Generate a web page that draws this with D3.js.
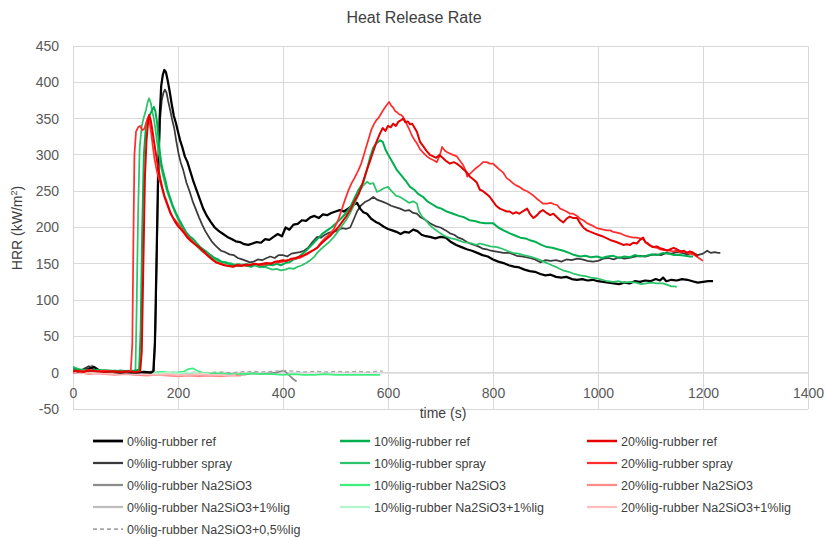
<!DOCTYPE html>
<html><head><meta charset="utf-8">
<script src="https://cdn.jsdelivr.net/npm/d3@7"></script>
<style>body{margin:0;background:#fff;}svg{display:block;font-family:"Liberation Sans",Arial,sans-serif;}</style>
</head><body>
<svg id="chart" width="826" height="538"></svg>
<script>
// ---------------- DATA ----------------
const xTicks = [0,200,400,600,800,1000,1200,1400];
const yTicks = [-50,0,50,100,150,200,250,300,350,400,450];
const seriesNames = [
 "0%lig-rubber ref","10%lig-rubber ref","20%lig-rubber ref",
 "0%lig-rubber spray","10%lig-rubber spray","20%lig-rubber spray",
 "0%lig-rubber Na2SiO3","10%lig-rubber Na2SiO3","20%lig-rubber Na2SiO3",
 "0%lig-rubber Na2SiO3+1%lig","10%lig-rubber Na2SiO3+1%lig","20%lig-rubber Na2SiO3+1%lig",
 "0%lig-rubber Na2SiO3+0,5%lig"];

const s0ref = [[0,2],[10,4],[20,3],[30,5],[40,8],[50,3],[60,2],[75,1],[90,0],[105,1],[120,0],[135,1],[148,0],[153,2],[156,40],[159,150],[162,270],[165,350],[168,395],[171,410],[174,417],[177,414],[180,404],[184,388],[188,370],[192,354],[196,344],[200,332],[204,320],[208,311],[213,298],[218,290],[224,276],[230,262],[236,250],[242,238],[248,226],[255,216],[262,208],[270,200],[278,195],[286,191],[294,187],[302,184],[310,181],[318,180],[326,177],[334,176],[342,178],[350,180],[358,179],[366,184],[374,183],[382,187],[390,191],[398,188],[405,200],[412,197],[420,204],[428,205],[436,210],[444,209],[452,214],[460,216],[468,213],[476,218],[484,217],[492,220],[500,222],[508,224],[516,222],[524,226],[532,230],[541,234],[547,226],[553,221],[560,219],[568,212],[576,208],[584,205],[592,201],[600,198],[608,196],[616,194],[624,191],[632,194],[640,193],[648,197],[656,195],[664,190],[672,188],[680,187],[690,185],[700,187],[710,186],[720,180],[730,176],[740,173],[750,170],[760,168],[770,165],[780,162],[790,160],[800,156],[810,153],[820,151],[830,148],[840,146],[850,145],[860,142],[870,140],[880,139],[890,136],[900,134],[910,135],[920,132],[930,131],[940,132],[950,129],[960,128],[970,129],[980,127],[990,128],[1000,126],[1010,125],[1020,124],[1030,123],[1040,122],[1050,124],[1060,123],[1070,126],[1080,125],[1090,127],[1100,126],[1110,129],[1118,127],[1124,131],[1130,126],[1140,128],[1150,127],[1160,129],[1170,128],[1180,126],[1190,124],[1200,125],[1210,126],[1219,126]];

const s0spray = [[0,3],[10,1],[20,5],[30,9],[40,4],[50,2],[65,1],[80,3],[95,1],[110,0],[125,1],[140,0],[150,1],[154,3],[157,60],[160,180],[163,290],[166,350],[169,375],[172,385],[175,390],[178,386],[181,375],[185,362],[189,348],[193,336],[197,318],[201,302],[205,290],[210,279],[216,262],[222,250],[228,236],[234,225],[240,214],[246,204],[252,195],[258,188],[264,181],[270,176],[276,172],[282,168],[290,166],[298,163],[306,162],[314,158],[322,156],[330,154],[337,152],[344,153],[352,156],[360,155],[369,158],[376,160],[384,158],[392,162],[400,162],[408,160],[416,164],[424,165],[432,166],[440,168],[448,172],[456,180],[465,187],[472,186],[480,190],[488,193],[496,194],[504,196],[512,199],[520,198],[528,200],[534,210],[541,222],[548,230],[556,235],[564,238],[572,242],[580,238],[588,236],[598,233],[606,230],[614,228],[623,226],[632,223],[640,224],[648,220],[655,219],[662,214],[670,211],[680,206],[690,202],[700,200],[710,196],[718,192],[726,190],[734,186],[742,184],[750,180],[756,178],[764,176],[772,174],[780,171],[788,170],[796,168],[804,167],[812,166],[820,165],[832,165],[845,161],[858,160],[870,158],[880,156],[890,152],[900,155],[910,154],[920,155],[930,153],[940,156],[950,155],[960,157],[970,156],[980,154],[990,153],[1000,154],[1010,157],[1020,158],[1030,156],[1040,159],[1050,157],[1060,158],[1070,160],[1080,161],[1090,160],[1100,162],[1110,163],[1120,162],[1130,165],[1140,164],[1150,166],[1160,165],[1170,163],[1180,165],[1190,162],[1200,164],[1208,168],[1215,165],[1222,166],[1229,165],[1233,165]];

const s10ref = [[0,6],[10,4],[20,3],[30,2],[45,4],[60,2],[75,1],[90,3],[105,2],[118,3],[126,4],[129,60],[132,200],[135,300],[139,340],[143,350],[147,356],[151,362],[154,366],[157,360],[160,345],[163,322],[166,300],[169,285],[172,276],[176,265],[180,252],[185,241],[190,230],[196,220],[202,211],[208,203],[215,194],[222,188],[229,184],[236,178],[244,172],[252,168],[260,163],[268,159],[276,156],[284,152],[292,152],[300,149],[308,148],[316,147],[324,149],[332,147],[340,146],[348,150],[356,147],[364,146],[372,149],[380,148],[388,150],[396,148],[404,151],[412,152],[420,156],[428,158],[436,163],[444,168],[452,174],[460,180],[468,186],[476,192],[484,196],[492,200],[500,205],[510,212],[520,220],[528,228],[536,240],[544,252],[553,262],[560,280],[566,297],[572,310],[578,316],[585,320],[590,318],[596,306],[602,298],[610,288],[617,279],[625,272],[634,264],[642,256],[650,252],[658,246],[667,242],[675,236],[684,232],[693,228],[702,226],[712,222],[724,219],[735,216],[745,214],[755,210],[765,209],[775,207],[785,206],[800,206],[810,200],[820,196],[832,192],[842,189],[852,186],[862,185],[872,182],[882,180],[892,176],[903,173],[913,172],[923,170],[934,168],[945,165],[955,162],[966,160],[976,161],[986,159],[998,160],[1008,158],[1018,160],[1029,161],[1040,158],[1050,160],[1061,159],[1070,162],[1080,160],[1092,161],[1102,163],[1112,162],[1124,165],[1134,164],[1145,162],[1156,162],[1166,161],[1175,160],[1181,160]];

const s10spray = [[0,8],[10,5],[20,4],[30,3],[45,2],[60,4],[75,3],[90,2],[105,3],[116,2],[119,4],[121,80],[124,220],[127,310],[131,340],[135,352],[139,362],[142,372],[145,378],[148,372],[151,360],[154,350],[157,335],[160,318],[164,300],[168,282],[172,270],[176,258],[180,248],[185,238],[190,228],[196,218],[202,208],[208,200],[215,192],[222,186],[229,180],[236,174],[244,168],[252,164],[260,160],[268,157],[276,154],[284,153],[292,150],[300,151],[308,149],[316,150],[324,148],[332,150],[340,148],[348,147],[356,145],[364,146],[372,144],[380,142],[388,143],[396,141],[404,142],[412,144],[420,143],[428,146],[436,148],[444,151],[452,155],[460,160],[465,165],[472,170],[480,175],[488,180],[497,187],[505,195],[512,202],[520,210],[528,220],[536,232],[542,242],[547,251],[553,258],[560,263],[566,260],[572,261],[579,249],[585,251],[592,254],[600,256],[607,250],[615,244],[623,242],[632,238],[640,234],[648,236],[655,233],[659,222],[665,215],[672,210],[680,203],[688,198],[696,194],[704,190],[712,187],[720,185],[728,184],[736,182],[743,180],[752,179],[760,178],[768,176],[775,178],[785,176],[795,174],[808,173],[820,170],[830,167],[838,165],[848,164],[858,162],[871,160],[880,158],[890,155],[903,151],[912,148],[922,145],[933,141],[944,139],[955,136],[966,134],[976,133],[986,131],[998,130],[1008,128],[1018,126],[1029,125],[1040,126],[1050,124],[1061,125],[1072,124],[1082,122],[1092,123],[1102,124],[1112,123],[1124,123],[1132,121],[1140,119],[1146,119],[1150,118]];

const s20ref = [[0,3],[10,2],[20,1],[30,3],[45,2],[60,1],[75,2],[90,1],[105,2],[118,1],[128,2],[131,30],[134,150],[137,270],[140,320],[143,345],[145,355],[148,348],[151,335],[154,320],[157,306],[160,292],[163,280],[166,268],[170,255],[174,244],[178,236],[182,228],[186,220],[190,214],[195,207],[200,202],[206,197],[212,192],[218,186],[225,181],[232,177],[240,173],[248,168],[256,162],[264,157],[272,152],[280,150],[288,148],[296,147],[305,146],[313,148],[321,147],[329,149],[337,148],[345,150],[353,149],[361,150],[369,151],[377,150],[385,153],[393,154],[400,155],[408,154],[416,157],[424,158],[432,160],[440,162],[448,165],[456,168],[465,172],[473,178],[481,183],[489,188],[497,194],[505,200],[513,208],[520,215],[528,224],[536,236],[544,246],[552,262],[560,280],[566,292],[572,305],[578,318],[585,330],[590,337],[595,333],[600,340],[605,338],[610,343],[615,340],[620,346],[625,348],[629,350],[633,345],[638,346],[642,342],[646,343],[650,338],[655,332],[661,318],[667,312],[673,306],[680,300],[686,298],[692,296],[698,300],[704,296],[710,292],[718,288],[725,290],[731,288],[738,284],[744,280],[750,276],[756,270],[763,266],[769,262],[775,252],[781,250],[788,246],[794,242],[800,236],[806,230],[813,226],[820,224],[826,222],[832,222],[838,219],[844,221],[850,219],[856,222],[865,226],[871,218],[877,213],[884,217],[890,222],[895,224],[902,220],[909,217],[915,219],[922,214],[928,210],[934,207],[940,212],[946,215],[953,213],[960,213],[966,206],[972,200],[979,196],[986,194],[993,192],[1000,190],[1008,188],[1017,185],[1026,182],[1035,180],[1042,178],[1048,176],[1055,177],[1061,176],[1067,179],[1074,178],[1080,183],[1086,186],[1090,180],[1095,178],[1100,175],[1105,173],[1112,174],[1120,171],[1126,170],[1131,168],[1138,170],[1144,172],[1150,170],[1158,167],[1164,168],[1169,165],[1175,167],[1180,166],[1185,163],[1190,160]];

const s20spray = [[0,1],[10,3],[20,2],[30,4],[45,2],[60,3],[75,1],[90,2],[103,1],[110,2],[113,40],[115,180],[117,300],[120,332],[124,338],[128,340],[132,334],[136,336],[140,346],[143,352],[146,344],[149,330],[152,312],[155,296],[158,284],[161,274],[164,266],[167,261],[171,250],[175,240],[180,230],[185,220],[190,214],[195,210],[200,205],[205,200],[210,196],[218,188],[226,182],[234,176],[242,171],[250,165],[258,160],[266,155],[274,152],[282,150],[290,148],[298,147],[305,146],[313,149],[321,148],[329,147],[337,149],[345,150],[353,149],[361,148],[369,150],[377,151],[385,152],[393,152],[400,153],[408,155],[416,156],[424,157],[432,158],[440,161],[448,164],[456,168],[465,172],[473,180],[481,186],[489,191],[497,198],[505,210],[512,225],[518,238],[524,250],[530,260],[536,268],[543,278],[549,288],[554,300],[558,310],[563,322],[568,334],[573,342],[578,348],[583,352],[587,357],[591,362],[595,366],[599,370],[602,373],[606,368],[610,365],[614,360],[617,359],[621,356],[625,355],[629,352],[634,345],[640,336],[646,326],[651,320],[655,316],[661,308],[667,303],[674,298],[680,295],[686,293],[693,290],[699,300],[703,311],[708,306],[712,304],[718,302],[724,300],[731,298],[737,292],[743,286],[748,278],[751,270],[756,274],[762,278],[768,282],[775,286],[781,290],[788,290],[794,288],[800,288],[806,284],[812,280],[819,276],[826,268],[832,265],[838,261],[844,258],[850,256],[858,252],[865,250],[871,247],[877,244],[883,240],[890,236],[895,233],[903,233],[910,234],[916,232],[922,231],[928,226],[934,224],[940,222],[947,219],[953,219],[960,216],[966,212],[972,210],[979,206],[985,204],[991,202],[998,199],[1004,198],[1010,197],[1017,196],[1023,196],[1029,194],[1036,193],[1042,192],[1048,190],[1055,188],[1061,187],[1068,186],[1074,186],[1080,185],[1086,184],[1093,178],[1099,175],[1105,173],[1112,172],[1118,170],[1124,169],[1131,169],[1137,168],[1143,167],[1150,168],[1156,166],[1162,167],[1169,166],[1175,164],[1181,163],[1188,160],[1194,157],[1200,154]];

const s0na = [[0,2],[10,3],[20,4],[30,7],[36,10],[42,6],[50,3],[60,1],[75,0],[90,-1],[105,-2],[120,-1],[135,-2],[150,-2],[165,-1],[180,-3],[195,-2],[210,-2],[225,-1],[240,-3],[255,-2],[270,-4],[285,-3],[300,-2],[315,-3],[330,-2],[345,-1],[360,-2],[375,-1],[388,0],[396,2],[402,3],[408,-1],[414,-5],[420,-9],[426,-12]];
const s10na = [[0,8],[10,5],[20,3],[35,2],[50,4],[65,2],[80,3],[95,2],[110,1],[125,2],[140,1],[155,0],[170,1],[185,0],[200,0],[212,2],[220,5],[228,6],[236,3],[245,0],[260,-1],[280,-1],[300,-2],[320,-2],[340,-1],[360,-2],[380,-2],[400,-3],[420,-2],[440,-3],[460,-3],[480,-2],[500,-3],[520,-3],[540,-3],[560,-3],[585,-3]];
const s20na = [[0,-1],[15,0],[30,-2],[45,-1],[60,-2],[80,-3],[100,-2],[120,-3],[140,-4],[160,-3],[180,-4],[200,-5],[220,-4],[240,-5],[260,-4],[280,-5],[300,-4],[320,-4]];
const s0na1 = [[0,0],[15,-1],[30,1],[45,0],[60,-1],[80,-2],[100,-1],[120,-3],[140,-2],[160,-3],[180,-2],[200,-3],[220,-2],[240,-3],[260,-4],[280,-3],[300,-2],[320,-3],[330,-3]];
const s10na1 = [[0,4],[20,2],[40,1],[60,2],[80,1],[100,0],[120,1],[140,0],[160,-1],[180,0],[200,-1],[220,0],[240,-1],[260,-1]];
const s20na1 = [[0,1],[15,-1],[30,0],[45,-2],[60,-1],[80,-2],[100,-1],[120,-2],[140,-2],[160,-3],[180,-2],[200,-3],[220,-3],[240,-2],[260,-3],[280,-3],[300,-4],[310,-3]];
const s0na05 = [[0,4],[20,2],[40,3],[60,1],[80,0],[100,1],[120,0],[140,2],[160,1],[180,0],[200,1],[220,0],[240,1],[260,0],[280,1],[300,0],[320,1],[340,2],[360,1],[380,2],[400,3],[420,2],[440,1],[460,2],[480,1],[500,2],[520,1],[540,2],[560,1],[580,2],[590,2]];

const seriesData = [s0ref,s10ref,s20ref,s0spray,s10spray,s20spray,s0na,s10na,s20na,s0na1,s10na1,s20na1,s0na05];

// ---------------- STYLE ----------------
const colors = ["#000000","#00B050","#E60000","#3A3A3A","#2BC46A","#FF2E2E","#8C8C8C","#3DEF7E","#FF8A8A","#BDBDBD","#B3F6CD","#FFBDBD","#A6A6A6"];
const widths = [2.25,2,2,1.75,1.75,1.75,1.75,1.75,1.75,1.75,1.75,1.75,1.25];
const dashes = [null,null,null,null,null,null,null,null,null,null,null,null,"4,3"];

const svg = d3.select("#chart");
const x = d3.scaleLinear().domain([0,1400]).range([73,808]);
const y = d3.scaleLinear().domain([-50,450]).range([409,46]);
const plainFmt = d => String(d).replace("\u2212","-");

// gridlines
const gridC = "#D9D9D9";
svg.append("g").selectAll("line").data(yTicks).join("line")
  .attr("x1",x(0)).attr("x2",x(1400)).attr("y1",d=>y(d)).attr("y2",d=>y(d))
  .attr("stroke",gridC).attr("stroke-width",1).attr("shape-rendering","crispEdges");
svg.append("g").selectAll("line").data(xTicks).join("line")
  .attr("y1",y(-50)).attr("y2",y(450)).attr("x1",d=>x(d)).attr("x2",d=>x(d))
  .attr("stroke",gridC).attr("stroke-width",1).attr("shape-rendering","crispEdges");

// axes (labels)
const yAxis = d3.axisLeft(y).tickValues(yTicks).tickSize(0).tickPadding(14).tickFormat(plainFmt);
const gy = svg.append("g").attr("transform",`translate(${x(0)},0)`).call(yAxis);
gy.select(".domain").remove();
gy.selectAll("text").attr("font-size",14).attr("fill","#595959").attr("font-family","Liberation Sans, Arial, sans-serif");

const xAxis = d3.axisBottom(x).tickValues(xTicks).tickSize(0).tickPadding(15).tickFormat(plainFmt);
const gx = svg.append("g").attr("transform",`translate(0,${y(0)})`).call(xAxis);
gx.select(".domain").attr("stroke","#D9D9D9");
gx.selectAll("text").attr("font-size",14).attr("fill","#595959").attr("font-family","Liberation Sans, Arial, sans-serif");

// clip
svg.append("clipPath").attr("id","clip").append("rect")
  .attr("x",x(0)).attr("y",y(450)).attr("width",x(1400)-x(0)).attr("height",y(-50)-y(450));

const line = d3.line().x(d=>x(d[0])).y(d=>y(d[1]));
const order = [6,9,12,7,10,8,11,3,0,4,1,5,2];
const gl = svg.append("g").attr("clip-path","url(#clip)");
order.forEach(i=>{
  gl.append("path").datum(seriesData[i]).attr("d",line)
    .attr("fill","none").attr("stroke",colors[i]).attr("stroke-width",widths[i])
    .attr("stroke-linejoin","round").attr("stroke-dasharray",dashes[i]);
});

// title
svg.append("text").attr("x",414).attr("y",23).attr("text-anchor","middle")
  .attr("font-size",16).attr("fill","#404040").text("Heat Release Rate");
// x title
svg.append("text").attr("x",443).attr("y",418).attr("text-anchor","middle")
  .attr("font-size",14).attr("fill","#404040").text("time (s)");
// y title
const yt = svg.append("text").attr("transform","translate(22,228) rotate(-90)").attr("text-anchor","middle")
  .attr("font-size",14).attr("fill","#404040");
yt.append("tspan").text("HRR (kW/m");
yt.append("tspan").attr("font-size",9).attr("dy",-5).text("2");
yt.append("tspan").attr("dy",5).text(")");

// legend
const colX = [93,340,587];
const rowY = [441,463,485,507,529];
const lg = svg.append("g");
seriesNames.forEach((name,i)=>{
  const c = i%3, r = Math.floor(i/3);
  const g = lg.append("g").attr("transform",`translate(${colX[c]},${rowY[r]})`);
  g.append("line").attr("x1",0).attr("x2",30).attr("y1",0).attr("y2",0)
    .attr("stroke",colors[i]).attr("stroke-width",widths[i]+0.5).attr("stroke-dasharray",dashes[i]);
  g.append("text").attr("x",34).attr("y",4.5).attr("font-size",12.5).attr("fill","#404040").text(name);
});
</script>
</body></html>
